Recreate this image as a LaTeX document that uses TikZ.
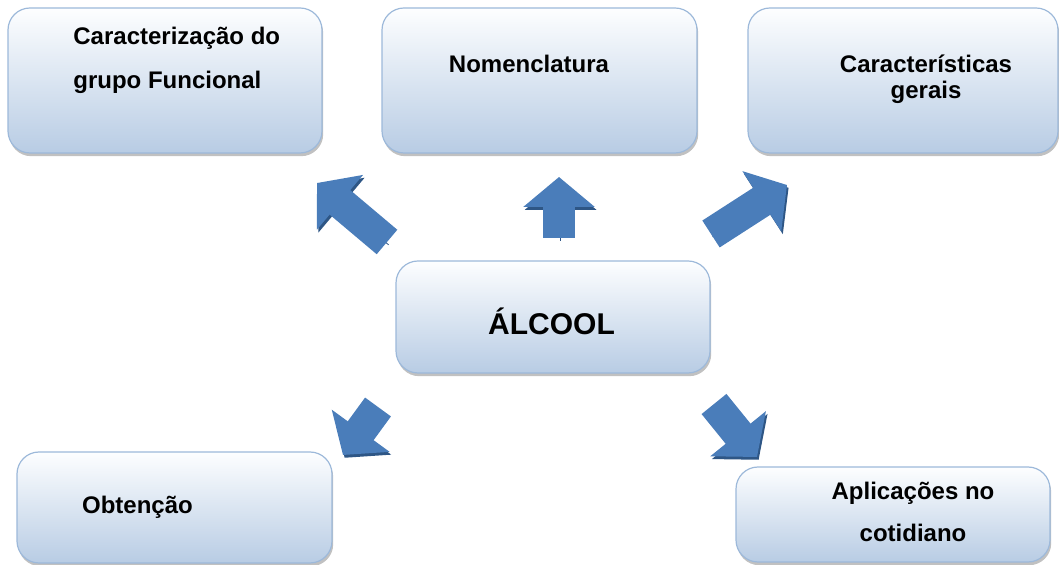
\documentclass[tikz,border=0pt]{standalone}
\usepackage{fontspec}
\setmainfont{Liberation Sans}
\usetikzlibrary{arrows.meta,shadows}
\definecolor{boxtop}{HTML}{FDFEFF}
\definecolor{boxbot}{HTML}{B8CCE4}
\definecolor{boxline}{HTML}{9DB9DA}
\definecolor{arrowblue}{HTML}{4A7DBA}
\definecolor{arrowdark}{HTML}{2E5685}
\tikzset{
  topicbox/.style={
    rectangle, rounded corners=11pt, draw=boxline, line width=0.6pt,
    top color=boxtop, bottom color=boxbot,
    drop shadow={shadow xshift=0.6pt, shadow yshift=-1.6pt,
                 opacity=0.35, fill=black!70},
    inner sep=0pt
  },
  topictext/.style={
    inner sep=0pt, text=black,
    font={\fontsize{12}{22}\selectfont\bfseries}
  },
  fatarrow/.style={
    draw=arrowblue, line width=16pt,
    -{Triangle[length=15pt,width=35pt]},
    preaction={draw=arrowdark, transform canvas={shift={(0.8pt,-1.4pt)}}}
  }
}
\begin{document}
\begin{tikzpicture}[x=0.5pt,y=-0.5pt]
  \useasboundingbox (0,0) rectangle (1059,565);
  %
  % ==================================================================
  % Boxes (centre + five topics)
  % ==================================================================
  \node[topicbox, minimum width=157pt,   minimum height=72.5pt] (capt) at (165,80.5)   {};
  \node[topicbox, minimum width=157.5pt, minimum height=72.5pt] (nome) at (539.5,80.5) {};
  \node[topicbox, minimum width=155pt,   minimum height=72.5pt] (cara) at (903,80.5)   {};
  \node[topicbox, minimum width=157pt,   minimum height=56pt]   (alc)  at (553,317)    {};
  \node[topicbox, minimum width=157.5pt, minimum height=55.5pt] (obt)  at (174.5,507.5) {};
  \node[topicbox, minimum width=157pt,   minimum height=47.5pt] (apl)  at (893,514.5)  {};
  %
  % ==================================================================
  % Texts (base anchor = baseline of the last line)
  % ==================================================================
  \node[topictext, anchor=base west, align=left] (captText) at (73,89)
    {Caracterização do\\grupo Funcional};
  \node[topictext, anchor=base] (nomeText) at (529,73) {Nomenclatura};
  \node[topictext, anchor=base, align=center,
        font={\fontsize{12}{13}\selectfont\bfseries}] (caraText) at (926,99)
    {Características\\gerais};
  \node[topictext, anchor=base, font={\fontsize{15}{18}\selectfont\bfseries}]
    (alcText) at (551.5,335) {ÁLCOOL};
  \node[topictext, anchor=base] (obtText) at (137.5,514) {Obtenção};
  \node[topictext, anchor=base, align=center,
        font={\fontsize{12}{21}\selectfont\bfseries}] (aplText) at (913,542)
    {Aplicações no\\cotidiano};
  %
  % ==================================================================
  % Block arrows (tail -> tip)
  % ==================================================================
  \coordinate (ulTail) at (387,242);  \coordinate (ulTip) at (317,183);
  \coordinate (upTail) at (559,238);  \coordinate (upTip) at (559,177);
  \coordinate (urTail) at (711,234);  \coordinate (urTip) at (787,185);
  \coordinate (dlTail) at (378,407);  \coordinate (dlTip) at (343,455);
  \coordinate (drTail) at (714,404);  \coordinate (drTip) at (757,457);
  \draw[fatarrow] (ulTail) -- (ulTip);
  \draw[fatarrow] (upTail) -- (upTip);
  \draw[fatarrow] (urTail) -- (urTip);
  \draw[fatarrow] (dlTail) -- (dlTip);
  \draw[fatarrow] (drTail) -- (drTip);
\end{tikzpicture}
\end{document}
